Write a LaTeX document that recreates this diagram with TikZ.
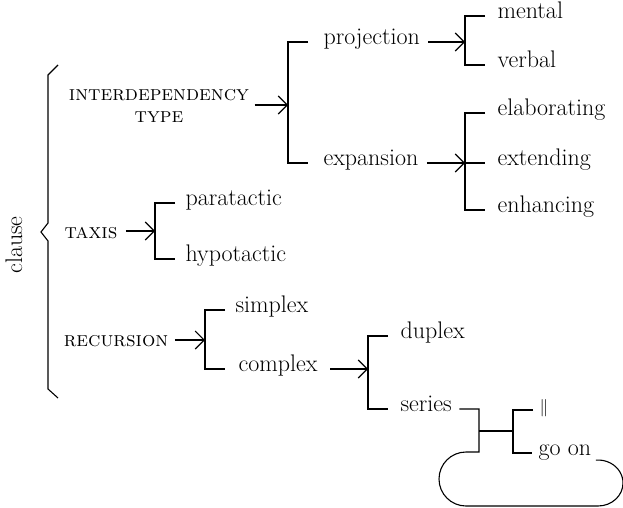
\documentclass[tikz,border=0pt]{standalone}
\usetikzlibrary{arrows.meta}
\begin{document}
\begin{tikzpicture}[x=1pt,y=-1pt,line width=1.1pt,
  every node/.style={font=\fontsize{24}{26}\selectfont, inner sep=0pt, anchor=mid west},
  sclabel/.style={font=\fontsize{21}{22}\selectfont\scshape, align=center, anchor=center},
  arr/.style={-{Straight Barb[length=9pt,width=18pt]}},
]
\useasboundingbox (0,0) rectangle (623,508);
% nodes
\node[rotate=90, anchor=mid] (cl) at (20,245) {clause};
\node[sclabel] (id) at (159,106) {interdependency\\type};
\node (prj) at (323,42) {projection};
\node (exp) at (323,163) {expansion};
\node (men) at (497,16) {mental};
\node (ver) at (497,65) {verbal};
\node (ela) at (497,113) {elaborating};
\node (ext) at (497,163) {extending};
\node (enh) at (497,210) {enhancing};
\node[sclabel] (tax) at (91,233) {taxis};
\node (par) at (185,203) {paratactic};
\node (hyp) at (185,259) {hypotactic};
\node[sclabel] (rec) at (116,341) {recursion};
\node (sim) at (235,310) {simplex};
\node (cpx) at (238,369) {complex};
\node (dup) at (400,336) {duplex};
\node (ser) at (400,409) {series};
\node (stop) at (539,410) {\fontsize{17}{17}\selectfont$\|$};
\node (goon) at (538,453) {go on};
% brace
\draw (58,65) -- (48,75) -- (48,223) -- (41,232) -- (48,241) -- (48,389) -- (58,398);
% bracket coordinates
\coordinate (b1) at (288,105);
\coordinate (b2) at (465,42);
\coordinate (b3) at (465,163);
\coordinate (b4) at (155,231);
\coordinate (b5) at (205,340);
\coordinate (b6) at (368,369);
\coordinate (s1) at (479,431);
\coordinate (s2) at (513,431);
% interdependency
\draw[arr] ([xshift=5]id.east |- b1) -- (b1);
\draw ([xshift=-15]prj.mid west) -| (b1) |- ([xshift=-15]exp.mid west);
\draw[arr] ([xshift=8]prj.mid east) -- (b2);
\draw ([xshift=-12]men.mid west) -| (b2) |- ([xshift=-12]ver.mid west);
\draw[arr] ([xshift=8]exp.mid east) -- (b3);
\draw ([xshift=-12]ela.mid west) -| (b3) |- ([xshift=-12]enh.mid west);
\draw (b3) -- ([xshift=-12]ext.mid west);
% taxis
\draw[arr] ([xshift=8]tax.east |- b4) -- (b4);
\draw ([xshift=-10]par.mid west) -| (b4) |- ([xshift=-10]hyp.mid west);
% recursion
\draw[arr] ([xshift=6]rec.east |- b5) -- (b5);
\draw ([xshift=-10]sim.mid west) -| (b5) |- ([xshift=-13]cpx.mid west);
\draw[arr] ([xshift=12]cpx.mid east) -- (b6);
\draw ([xshift=-12]dup.mid west) -| (b6) |- ([xshift=-12]ser.mid west);
% series
\draw ([xshift=7]ser.mid east) -| (s1) -- (479,452) -- (466,452)
  arc[start angle=-90, end angle=-270, radius=27] -- (598,506)
  arc[start angle=90, end angle=-95, x radius=25, y radius=23];
\draw (s1) -- (s2);
\draw ([xshift=-6]stop.mid west) -| (s2) |- ([xshift=-6]goon.mid west);
\end{tikzpicture}
\end{document}
